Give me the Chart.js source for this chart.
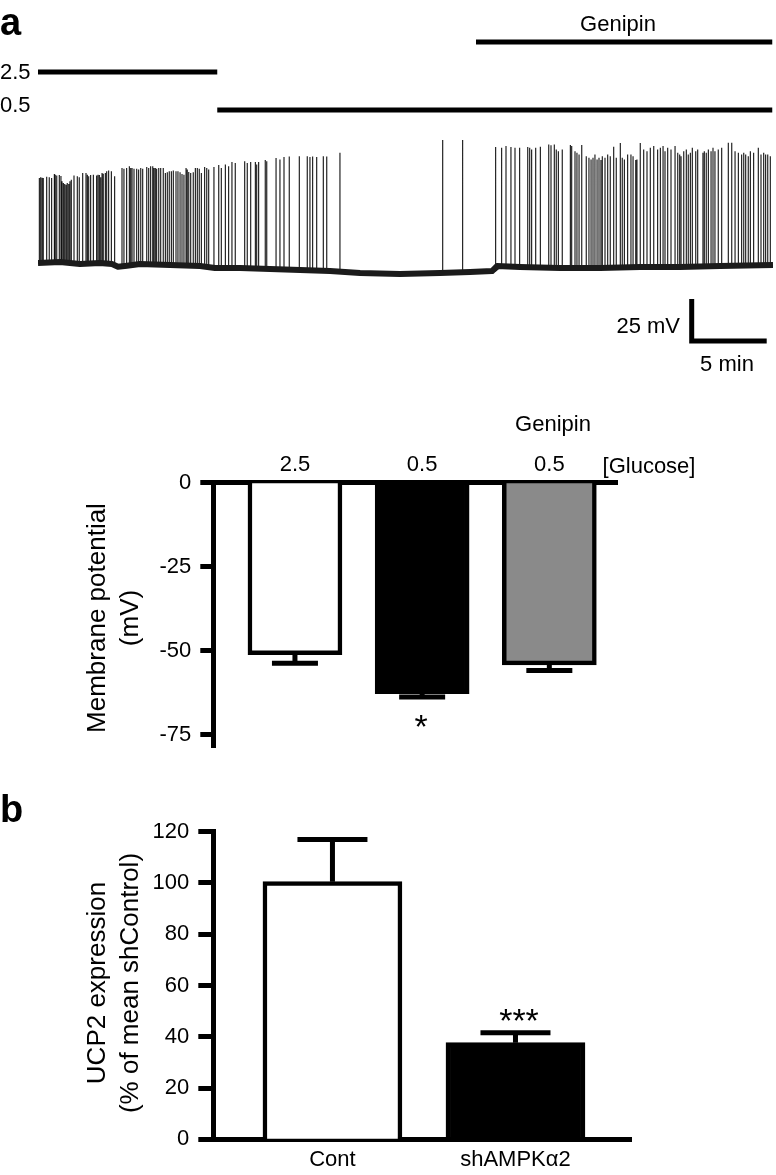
<!DOCTYPE html>
<html>
<head>
  <title>Membrane potential and UCP2 expression</title>
  <script src="https://cdn.jsdelivr.net/npm/chart.js"></script>
  <style>
    body { margin: 0; background: #fff; }
    #fig { position: relative; width: 776px; height: 1175px; overflow: hidden;
           font-family: 'Liberation Sans', Arial, Helvetica, sans-serif; color: #000; }
    #fig canvas { position: absolute; left: 0; }
    .t { position: absolute; font-size: 22px; line-height: 1; white-space: nowrap; }
    .c { transform: translate(-50%, -50%); }
    .l { transform: translateY(-50%); }
    .panel { font-weight: bold; font-size: 38px; }
    .star { font-size: 34px; transform: translateX(-50%); }
    .ytitle { position: absolute; font-size: 26px; line-height: 33px; text-align: center;
              white-space: nowrap; transform: translate(-50%, -50%) rotate(-90deg); }
  </style>
</head>
<body>
<div id="fig">
  <canvas id="trace" width="776" height="380" style="top:0"></canvas>
  <canvas id="potential" width="776" height="370" style="top:400px"></canvas>
  <canvas id="ucp2" width="776" height="395" style="top:780px"></canvas>

  <div class="t panel" style="left:0;top:3px">a</div>
  <div class="t l" style="left:0;top:72px">2.5</div>
  <div class="t l" style="left:0;top:105px">0.5</div>
  <div class="t c" style="left:618px;top:24px">Genipin</div>
  <div class="t" style="left:680px;top:326px;transform:translate(-100%,-50%)">25 mV</div>
  <div class="t c" style="left:727px;top:364px">5 min</div>

  <div class="t c" style="left:553px;top:424px">Genipin</div>
  <div class="t c" style="left:649px;top:466px">[Glucose]</div>
  <div class="ytitle" style="left:113px;top:618px">Membrane potential<br>(mV)</div>
  <div class="t star" style="left:421px;top:709px">*</div>

  <div class="t panel" style="left:0;top:790px">b</div>
  <div class="ytitle" style="left:113px;top:983px">UCP2 expression<br>(% of mean shControl)</div>
  <div class="t star" style="left:519px;top:1003px">***</div>
</div>

<script>
  const font = "'Liberation Sans', Arial, Helvetica, sans-serif";

  // ---- panel a, recording: time in min, potential in mV ----
  const baseT = [0, 1.47, 2.8, 4.13, 4.93, 5.33, 5.93, 6.8, 8.8, 10.8, 11.8, 13.47, 15.47, 17.47,
                 19.47, 21.47, 24.13, 26.8, 28.8, 30.27, 30.6, 32.13, 34.8, 37.47, 40.13, 42.8, 45.47, 49];
  const baseV = [-50.6, -50.0, -51.2, -50.6, -51.2, -52.8, -52.2, -51.2, -51.8, -52.4, -53.6, -53.6, -54.2, -54.8,
                 -55.4, -56.5, -57.1, -56.5, -56.0, -55.4, -52.4, -53.0, -53.6, -53.6, -53.0, -53.0, -52.4, -51.8];

  // [time, peak]
  const spikes = [
    [0.09,0],[0.18,0.5],[0.27,0.2],[0.35,0],[0.58,0.8],[0.75,0.5],[0.91,0],[1.09,2.4],[1.15,2],[1.25,1.5],
    [1.42,1.8],[1.53,1.2],[1.60,-2],[1.69,-3],[1.78,-3.5],[1.87,-4],[1.95,-3],[2.05,-3.5],[2.13,-2],[2.22,-1],
    [2.40,1.5],[2.62,1],[2.75,0.5],[2.98,3],[3.20,3],[3.29,2],[3.38,1],[3.51,1.8],[3.69,2],[3.91,1.5],
    [4.00,2],[4.09,1.8],[4.18,0.5],[4.27,3],[4.35,2.5],[4.49,3],[4.58,4],[4.71,4.5],[4.89,4],[5.11,1],
    [5.60,6],[5.73,5.5],[5.91,6],[6.09,7],[6.18,6],[6.27,6],[6.40,5.5],[6.58,5.5],[6.71,5],[6.85,6],
    [6.98,5.5],[7.25,6.5],[7.38,6],[7.51,7],[7.65,7],[7.73,6],[7.82,6],[7.91,5.5],[8.05,6],[8.18,6],
    [8.35,6],[8.49,3],[8.62,3.5],[8.75,4],[8.89,4],[9.02,4.5],[9.20,4],[9.33,4],[9.47,3.5],[9.60,2.4],
    [9.73,2],[9.87,6],[9.95,5],[10.05,3.6],[10.18,3],[10.35,3.5],[10.49,6],[10.62,6],[10.75,5.5],[10.89,3],
    [11.11,6.5],[11.25,6],[11.38,5],[11.73,6.5],[12.05,7.7],[12.22,6],[12.49,8],[12.71,7],[12.93,9.5],[13.15,9],
    [13.78,10],[13.95,9],[14.18,9.5],[14.49,9.5],[14.58,8],[14.71,9.5],[15.15,10.7],[15.25,10],[15.87,11.9],[16.13,11],
    [16.40,12.5],[16.75,12.8],[17.42,13],[17.95,13],[18.13,12.5],[18.31,12.8],[18.58,12.5],[19.02,13],[19.25,12.8],[20.13,15],
    [26.98,22.6],[28.31,22.6],
    [30.51,18.5],[30.91,18],[31.20,19],[31.53,18.5],[31.80,18],[32.11,18],[32.65,18.5],[32.78,18],[32.91,17],[33.18,18],
    [33.49,18.6],[34.05,20],[34.20,19.5],[34.42,20],[34.55,17],[34.69,16],[34.95,17],[35.49,19.6],[35.58,19],[35.80,16],
    [35.93,15],[36.07,14],[36.25,19.6],[36.55,13],[36.73,12],[36.87,11],[37.00,12],[37.13,14],[37.27,11],[37.40,12],
    [37.53,10.7],[37.62,13],[37.80,12],[37.98,14],[38.15,13],[38.38,18.6],[38.55,12],[38.82,20.8],[38.95,12],[39.09,11],
    [39.31,14],[39.53,14],[39.67,13],[39.85,10.7],[39.93,11],[40.15,20.8],[40.38,17],[40.60,16],[40.82,18],[41.05,19],
    [41.31,17],[41.49,18],[41.67,19],[41.80,16],[41.98,18],[42.20,17],[42.47,19],[42.65,15],[42.78,14],[42.87,13],
    [43.05,16],[43.22,17],[43.35,14],[43.49,15],[43.62,18],[43.85,16],[43.98,17],[44.33,15],[44.42,16],[44.55,15],
    [44.69,17],[44.87,16],[45.00,18],[45.13,16],[45.35,17],[45.58,18],[46.02,21],[46.25,21],[46.47,16],[46.69,15],
    [46.91,14],[47.05,15],[47.18,14],[47.35,13],[47.49,16],[47.71,15],[48.02,18],[48.20,14],[48.38,15],[48.51,14],
    [48.65,14],[48.82,13]
  ];

  // perfusion periods (min)
  const glucoseHigh = [0, 11.95];   // 2.5 mM
  const glucoseLow = [11.95, 48.95]; // 0.5 mM
  const genipinOn = [29.2, 48.95];

  // ---- panel a, bars ----
  const potLabels = ['2.5', '0.5', '0.5'];
  const potMean = [-51.2, -62.8, -54.2];
  const potSem = [2.5, 1.0, 1.7];
  const potTicks = [-75, -50, -25, 0];

  // ---- panel b ----
  const ucpLabels = ['Cont', 'shAMPK\u03b12'];
  const ucpMean = [100.5, 37.7];
  const ucpSem = [16.5, 3.9];
  const ucpTicks = [0, 20, 40, 60, 80, 100, 120];

  // foot of each spike sits on the last baseline reading before it
  function footAt(t) {
    let i = 0;
    while (i < baseT.length - 1 && baseT[i + 1] <= t) i++;
    return baseV[i];
  }
  const spikePts = [];
  spikes.forEach(([t, peak]) => {
    const f = footAt(t);
    spikePts.push({x: t, y: f}, {x: t, y: peak}, {x: t, y: f});
  });

  const rowY = {genipin: 12, high: 42, low: 80}; // rows on the hidden 'yc' axis (px from top)
  const seg = (p, row) => [{x: p[0], y: row}, {x: p[1], y: row}];
  const bar = {t: 43.58, v: -97, dt: 5, dv: 25};

  const lineDs = (data, extra) => Object.assign({
    data, showLine: true, pointRadius: 0, borderColor: '#000', borderWidth: 5,
    borderCapStyle: 'butt', borderJoinStyle: 'miter'
  }, extra);

  new Chart(document.getElementById('trace'), {
    type: 'scatter',
    data: {
      datasets: [
        lineDs(baseT.map((t, i) => ({x: t, y: baseV[i]})), {borderColor: '#1b1b1b', borderWidth: 6, borderJoinStyle: 'round', order: 1}),
        lineDs(spikePts, {borderColor: '#111111', borderWidth: 1.1, borderJoinStyle: 'bevel', order: 2}),
        lineDs(seg(glucoseHigh, rowY.high), {yAxisID: 'yc'}),
        lineDs(seg(glucoseLow, rowY.low), {yAxisID: 'yc'}),
        lineDs(seg(genipinOn, rowY.genipin), {yAxisID: 'yc'}),
        lineDs([{x: bar.t, y: bar.v + bar.dv}, {x: bar.t, y: bar.v}, {x: bar.t + bar.dt, y: bar.v}])
      ]
    },
    options: {
      animation: false, responsive: false, devicePixelRatio: 1,
      layout: {padding: {left: 38, right: 3, top: 30, bottom: 20}},
      plugins: {legend: {display: false}, tooltip: {enabled: false}},
      scales: {
        x: {type: 'linear', min: 0, max: 49, display: false},
        y: {min: -108.33, max: 88.10, display: false},
        yc: {min: 0, max: 330, reverse: true, display: false}
      }
    }
  });

  const errorBars = {
    id: 'errorBars',
    afterDatasetsDraw(chart, args, opts) {
      const {ctx} = chart;
      const y = chart.scales.y;
      ctx.save();
      ctx.strokeStyle = '#000';
      ctx.lineWidth = 5;
      ctx.lineCap = 'butt';
      chart.getDatasetMeta(0).data.forEach((el, i) => {
        const v = opts.mean[i];
        const end = v < 0 ? v - opts.sem[i] : v + opts.sem[i];
        const y0 = y.getPixelForValue(v), y1 = y.getPixelForValue(end);
        ctx.beginPath();
        ctx.moveTo(el.x, y0);
        ctx.lineTo(el.x, y1);
        ctx.moveTo(el.x - opts.cap, y1);
        ctx.lineTo(el.x + opts.cap, y1);
        ctx.stroke();
      });
      ctx.restore();
    }
  };

  const tickFont = {family: font, size: 22};
  const yAxis = (ticks, len, width) => ({
    afterFit: s => { s.width = width; },
    afterBuildTicks: s => { s.ticks = ticks.map(v => ({value: v})); },
    ticks: {font: tickFont, color: '#000', padding: 9},
    grid: {drawOnChartArea: false, drawTicks: true, tickLength: len, tickWidth: 5, tickColor: '#000'},
    border: {color: '#000', width: 5}
  });
  const xAxis = (labels, pos, height, pad) => ({
    type: 'linear', position: pos, offset: false,
    afterFit: s => { s.height = height; },
    afterBuildTicks: s => { s.ticks = labels.map((_, i) => ({value: i + 1})); },
    ticks: {callback: (v, i) => labels[i], font: tickFont, color: '#000', padding: pad, maxRotation: 0, autoSkip: false},
    grid: {offset: false, drawOnChartArea: false, drawTicks: false, color: 'rgba(0,0,0,0)'},
    border: {color: '#000', width: 5}
  });

  new Chart(document.getElementById('potential'), {
    type: 'bar',
    data: {
      datasets: [{
        data: potMean.map((v, i) => ({x: i + 1, y: v})),
        backgroundColor: ['#ffffff', '#000000', '#8a8a8a'],
        borderColor: '#000', borderWidth: 4.5, borderSkipped: 'start', barThickness: 94
      }]
    },
    options: {
      animation: false, responsive: false, devicePixelRatio: 1,
      layout: {padding: {left: 0, right: 159, top: 0, bottom: 18}},
      plugins: {legend: {display: false}, tooltip: {enabled: false},
                errorBars: {mean: potMean, sem: potSem, cap: 23}},
      scales: {
        x: Object.assign(xAxis(potLabels, 'top', 82.7, 5), {min: 0.358, max: 3.532}),
        y: Object.assign(yAxis(potTicks, 13, 213.3), {min: -78.9, max: 0})
      }
    },
    plugins: [errorBars]
  });

  new Chart(document.getElementById('ucp2'), {
    type: 'bar',
    data: {
      datasets: [{
        data: ucpMean.map((v, i) => ({x: i + 1, y: v})),
        backgroundColor: ['#ffffff', '#000000'],
        borderColor: '#000', borderWidth: 4.5, borderSkipped: 'start', barThickness: 139
      }]
    },
    options: {
      animation: false, responsive: false, devicePixelRatio: 1,
      layout: {padding: {left: 0, right: 144.3, top: 51.7, bottom: 0}},
      plugins: {legend: {display: false}, tooltip: {enabled: false},
                errorBars: {mean: ucpMean, sem: ucpSem, cap: 35}},
      scales: {
        x: Object.assign(xAxis(ucpLabels, 'bottom', 35.7, 7), {min: 0.349, max: 2.635}),
        y: Object.assign(yAxis(ucpTicks, 15, 213.3), {min: 0, max: 120})
      }
    },
    plugins: [errorBars]
  });
</script>
</body>
</html>
